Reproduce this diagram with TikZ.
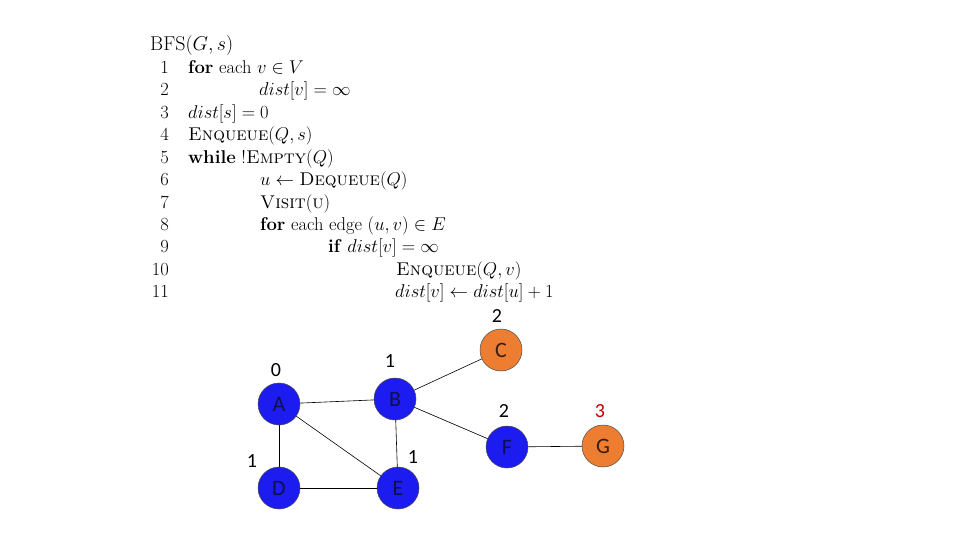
\RequirePackage{fix-cm}
\documentclass[tikz,border=0pt]{standalone}
\usepackage{fontspec}
\newfontfamily\graphfont{Carlito}
\definecolor{nodeblue}{RGB}{28,28,240}
\definecolor{nodeorange}{RGB}{237,125,49}
\definecolor{txtblue}{RGB}{16,16,72}
\definecolor{txtorange}{RGB}{60,28,12}
\definecolor{numred}{RGB}{192,0,0}
\begin{document}
\begin{tikzpicture}[x=1pt,y=-1pt,
  algo/.style={anchor=base west,inner sep=0pt,font=\fontsize{18.5}{22}\selectfont},
  lnum/.style={anchor=base east,inner sep=0pt,font=\fontsize{18.5}{22}\selectfont},
  vtx/.style={circle,minimum size=42pt,inner sep=0pt,draw=black!70,line width=0.5pt,font=\graphfont\fontsize{22}{22}\selectfont},
  bluev/.style={vtx,fill=nodeblue,text=txtblue},
  orangev/.style={vtx,fill=nodeorange,text=txtorange},
  dlab/.style={inner sep=0pt,font=\graphfont\fontsize{20}{20}\selectfont},
  edge/.style={draw=black,line width=0.6pt}]
\useasboundingbox (0,0) rectangle (960,540);
\fill[white] (0,0) rectangle (960,540);
% algorithm
\node[algo,font=\fontsize{20}{24}\selectfont] (title) at (150,51) {BFS$(G,s)$};
\def\lb#1{73.3+22.45*(#1-1)}
\node[lnum] (n1) at (169,{\lb{1}}) {1};
\node[lnum] (n2) at (169,{\lb{2}}) {2};
\node[lnum] (n3) at (169,{\lb{3}}) {3};
\node[lnum] (n4) at (169,{\lb{4}}) {4};
\node[lnum] (n5) at (169,{\lb{5}}) {5};
\node[lnum] (n6) at (169,{\lb{6}}) {6};
\node[lnum] (n7) at (169,{\lb{7}}) {7};
\node[lnum] (n8) at (169,{\lb{8}}) {8};
\node[lnum] (n9) at (169,{\lb{9}}) {9};
\node[lnum] (n10) at (169,{\lb{10}}) {10};
\node[lnum] (n11) at (169,{\lb{11}}) {11};
\node[algo] (l1) at (188,{\lb{1}}) {\textbf{for} each $v\in V$};
\node[algo] (l2) at (259,{\lb{2}}) {$dist[v]=\infty$};
\node[algo] (l3) at (188,{\lb{3}}) {$dist[s]=0$};
\node[algo] (l4) at (188,{\lb{4}}) {\textsc{Enqueue}$(Q,s)$};
\node[algo] (l5) at (188,{\lb{5}}) {\textbf{while} !\textsc{Empty}$(Q)$};
\node[algo] (l6) at (260,{\lb{6}}) {$u\leftarrow{}$\textsc{Dequeue}$(Q)$};
\node[algo] (l7) at (260,{\lb{7}}) {\textsc{Visit}(\textsc{u})};
\node[algo] (l8) at (260,{\lb{8}}) {\textbf{for} each edge $(u,v)\in E$};
\node[algo] (l9) at (328,{\lb{9}}) {\textbf{if} $dist[v]=\infty$};
\node[algo] (l10) at (396,{\lb{10}}) {\textsc{Enqueue}$(Q,v)$};
\node[algo] (l11) at (395,{\lb{11}}) {$dist[v]\leftarrow dist[u]+1$};
% graph
\node[bluev] (A) at (279,404) {A};
\node[bluev] (B) at (395,399) {B};
\node[orangev] (C) at (501,350) {C};
\node[bluev] (D) at (279,488) {D};
\node[bluev] (E) at (398,488) {E};
\node[bluev] (F) at (507,447) {F};
\node[orangev] (G) at (603,446) {G};
\draw[edge] (A) -- (B);
\draw[edge] (A) -- (D);
\draw[edge] (A) -- (E);
\draw[edge] (B) -- (E);
\draw[edge] (D) -- (E);
\draw[edge] (B) -- (C);
\draw[edge] (B) -- (F);
\draw[edge] (F) -- (G);
\node[dlab] (la) at (276,370) {0};
\node[dlab] (lbB) at (390,361) {1};
\node[dlab] (lc) at (497,316) {2};
\node[dlab] (lf) at (504,411) {2};
\node[dlab,text=numred] (lg) at (600,411) {3};
\node[dlab] (ld) at (252,461) {1};
\node[dlab] (le) at (413,457) {1};
\end{tikzpicture}
\end{document}
